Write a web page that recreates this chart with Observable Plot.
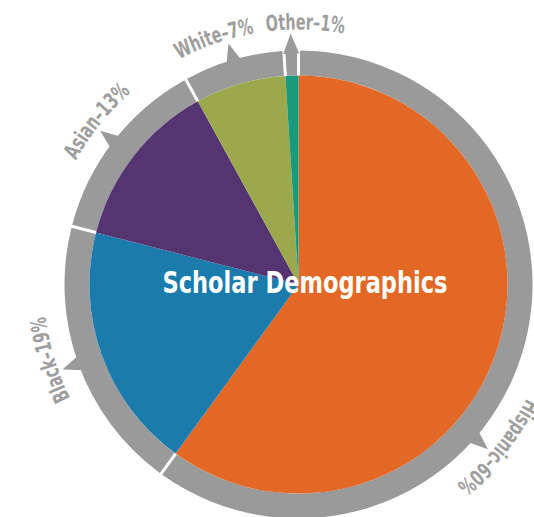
<!DOCTYPE html>
<html><head><meta charset="utf-8">
<script src="https://cdn.jsdelivr.net/npm/d3@7"></script>
<script src="https://cdn.jsdelivr.net/npm/@observablehq/plot@0.6"></script>
<style>body{margin:0;background:#fff} svg{display:block}</style>
</head><body><div id="chart"></div>
<script>
// ---- data ----
const categories = ["Hispanic", "Black", "Asian", "White", "Other"];
const shares = [60, 19, 13, 7, 1];
const colors = ["#e36825", "#1a7bac", "#553571", "#9ca84c", "#1a9a7a"];
const title = "Scholar Demographics";

// ---- layout ----
const W = 534, H = 517;
const layout = {cx: 298.5, cy: 284.5, pieR: 209, ringR0: 209, ringR1: 234,
  arrowBase: 231, arrowTip: 251, arrowHalf: 8, labelR: 255, gap: 3};
const labelAngleDeg = {Hispanic: 129, Black: 253, Asian: 309, White: 341, Other: 1.5};
const labelLength = {Hispanic: 112, Black: 86, Asian: 88, White: 80, Other: 78};
const arrowAngleDeg = {Hispanic: 131};
const ringGray = "#999a99", labelGray = "#9d9e9d";
const labelFont = "'Liberation Sans Narrow','DejaVu Sans Condensed','Arial Narrow',sans-serif";

const rows = categories.map((c, i) => ({category: c, share: shares[i], color: colors[i], label: `${c}–${shares[i]}%`}));
const arcs = d3.pie().sort(null).value(d => d.share)(rows);

function pieMark(index, scales) {
  const fx = scales && typeof scales.x === "function" ? scales.x : v => v;
  const fy = scales && typeof scales.y === "function" ? scales.y : v => v;
  const cx = fx(layout.cx), cy = fy(layout.cy);
  const g = d3.create("svg:g").attr("transform", `translate(${cx},${cy})`);
  const pt = (r, a) => [r * Math.sin(a), -r * Math.cos(a)];

  // outer ring segments
  const ring = d3.arc().innerRadius(layout.ringR0).outerRadius(layout.ringR1)
    .padRadius(220).padAngle(layout.gap / 220);
  g.append("g").selectAll("path").data(arcs).join("path")
    .attr("d", ring).attr("fill", ringGray);

  // arrows
  g.append("g").selectAll("path").data(arcs).join("path")
    .attr("fill", ringGray)
    .attr("d", d => {
      const a = arrowAngleDeg[d.data.category] != null
        ? arrowAngleDeg[d.data.category] * Math.PI / 180
        : (d.startAngle + d.endAngle) / 2;
      const dl = layout.arrowHalf / layout.arrowBase;
      const p1 = pt(layout.arrowBase, a - dl), p2 = pt(layout.arrowTip, a), p3 = pt(layout.arrowBase, a + dl);
      return `M${p1}L${p2}L${p3}Z`;
    });

  // pie slices
  const slice = d3.arc().innerRadius(0).outerRadius(layout.pieR);
  g.append("g").selectAll("path").data(arcs).join("path")
    .attr("d", slice).attr("fill", d => d.data.color);

  // curved labels
  const r = layout.labelR;
  g.append("path").attr("id", "labelCircle").attr("fill", "none")
    .attr("d", `M${-r},0A${r},${r} 0 1 1 ${r},0A${r},${r} 0 1 1 ${-r},0`);
  const circ = 2 * Math.PI * r;
  g.append("g").selectAll("text").data(arcs).join("text")
    .attr("fill", labelGray)
    .attr("font-family", labelFont)
    .attr("font-size", 22)
    .attr("font-weight", "bold")
    .attr("text-anchor", "middle")
    .append("textPath")
    .attr("href", "#labelCircle")
    .attr("textLength", d => labelLength[d.data.category])
    .attr("lengthAdjust", "spacingAndGlyphs")
    .attr("startOffset", d => {
      const deg = labelAngleDeg[d.data.category];
      return (((deg - 270) % 360 + 360) % 360) / 360 * circ;
    })
    .text(d => d.data.label);
  return g.node();
}

const plot = Plot.plot({
  width: W, height: H, margin: 0,
  x: {domain: [0, W], range: [0, W], axis: null},
  y: {domain: [0, H], range: [0, H], axis: null},
  marks: [
    pieMark,
    Plot.text([title], {x: 304.5, y: 283, text: d => d, fill: "white",
      fontSize: 30, fontWeight: "bold",
      fontFamily: "'Liberation Sans Narrow','DejaVu Sans Condensed',sans-serif"})
  ]
});
d3.select(plot).selectAll('g[aria-label="text"] text')
  .attr("textLength", 285).attr("lengthAdjust", "spacingAndGlyphs");
document.getElementById("chart").appendChild(plot);
</script>
</body></html>
